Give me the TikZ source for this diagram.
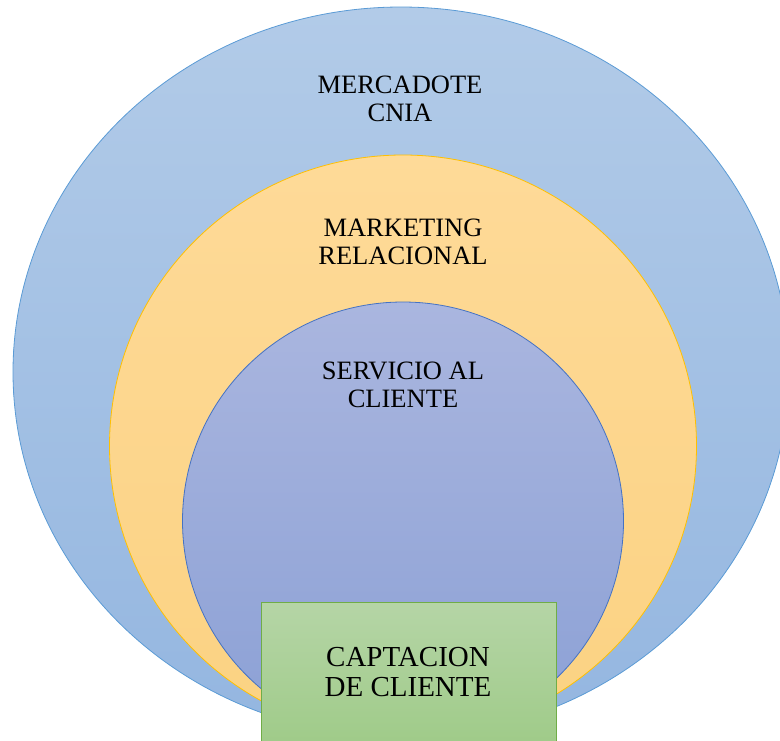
\documentclass[tikz,border=0pt]{standalone}
\usepackage{fontspec}
\setmainfont{Liberation Serif}
\usetikzlibrary{shapes.geometric}
\definecolor{outerA}{HTML}{B2CBE8}
\definecolor{outerB}{HTML}{94B6E0}
\definecolor{outerL}{HTML}{5B9BD5}
\definecolor{midA}{HTML}{FEDA98}
\definecolor{midB}{HTML}{FBD282}
\definecolor{midL}{HTML}{FFC000}
\definecolor{innA}{HTML}{AAB6DF}
\definecolor{innB}{HTML}{8BA0D5}
\definecolor{innL}{HTML}{4472C4}
\definecolor{boxA}{HTML}{B5D5A6}
\definecolor{boxB}{HTML}{9BC983}
\definecolor{boxL}{HTML}{70AD47}
\tikzset{
  ring/.style={ellipse, inner sep=0pt, line width=0.8pt},
  lab/.style={align=center, inner sep=0pt, font=\fontsize{26.5}{28.5}\selectfont, text=black},
  boxlab/.style={align=center, inner sep=0pt, font=\fontsize{29}{30.5}\selectfont, text=black}
}
\begin{document}
\begin{tikzpicture}[x=1pt,y=1pt]
\useasboundingbox (0,0) rectangle (780,-740);
\clip (0,0) rectangle (780,-740);
\node[ring, draw=outerL, top color=outerA, bottom color=outerB,
      minimum width=776pt, minimum height=730pt] (outer) at (401,-372) {};
\node[ring, draw=midL, top color=midA, bottom color=midB,
      minimum width=587pt, minimum height=582pt] (mid) at (403,-446) {};
\node[ring, draw=innL, top color=innA, bottom color=innB,
      minimum width=441pt, minimum height=438pt] (inner) at (403,-521) {};
\node[draw=boxL, line width=0.8pt, top color=boxA, bottom color=boxB,
      minimum width=295pt, minimum height=170pt, inner sep=0pt, anchor=north west] (box) at (261,-602) {};
\node[lab] (t1) at (400,-99) {MERCADOTE\\CNIA};
\node[lab] (t2) at (403,-242) {MARKETING\\RELACIONAL};
\node[lab] (t3) at (403,-385) {SERVICIO AL\\CLIENTE};
\node[boxlab] (t4) at (408,-672) {CAPTACION\\DE CLIENTE};
\end{tikzpicture}
\end{document}
